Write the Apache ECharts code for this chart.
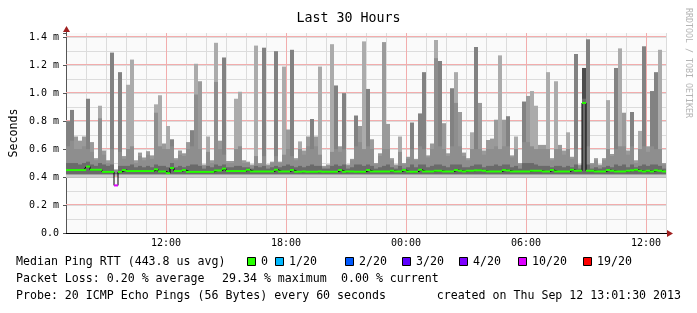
<!DOCTYPE html>
<html><head><meta charset="utf-8">
<script src="https://cdn.jsdelivr.net/npm/echarts@6/dist/echarts.min.js"></script>
<style>html,body{margin:0;padding:0;background:#fff}#c{width:697px;height:313px}</style>
</head><body><div id="c"></div><script>
// ---- data ----
const startHour = 7;          // first column starts 07:00 (hours since Sep 11 00:00)
const colHours = 0.2;         // each column = 12 minutes
const xLabelHours = [12, 18, 24, 30, 36];
const xLabelTexts = ['12:00', '18:00', '00:00', '06:00', '12:00'];
const yLabelValues = [0, 0.2, 0.4, 0.6, 0.8, 1.0, 1.2, 1.4];
const yLabelTexts = ['0.0', '0.2 m', '0.4 m', '0.6 m', '0.8 m', '1.0 m', '1.2 m', '1.4 m'];

const smokeTop = [
 0.80,0.88,0.69,0.66,0.69,0.96,0.65,0.535,0.91,0.59,
 0.52,1.29,0.455,1.15,0.55,1.06,1.24,0.52,0.575,0.54,
 0.585,0.555,0.92,0.985,0.64,0.765,0.67,0.535,0.59,0.57,
 0.65,0.735,1.21,1.085,0.49,0.69,0.52,1.36,0.66,1.255,
 0.515,0.515,0.96,1.01,0.52,0.51,0.49,1.34,0.50,1.325,
 0.49,0.51,1.30,0.51,1.19,0.74,1.31,0.535,0.655,0.59,
 0.69,0.815,0.69,1.19,0.48,0.49,1.35,1.055,0.62,1.0,
 0.49,0.53,0.84,0.765,1.37,1.03,0.67,0.50,0.57,1.365,
 0.78,0.535,0.49,0.69,0.50,0.545,0.79,0.53,0.855,1.15,
 0.555,0.64,1.38,1.23,0.785,0.57,1.035,1.15,0.865,0.575,
 0.535,0.72,1.33,0.93,0.59,0.665,0.675,0.81,1.27,0.81,
 0.835,0.555,0.69,0.50,0.94,0.98,1.015,0.91,0.63,0.63,
 1.15,0.535,1.085,0.63,0.59,0.72,0.545,1.28,0.49,1.18,
 1.385,0.50,0.535,0.49,0.535,0.95,0.565,1.18,1.32,0.86,
 0.59,0.865,0.52,0.73,1.335,0.62,1.015,1.15,1.31,0.50
];
const smokeShade =
 "DDMMMDMMLM" + "MDMDMLLMMM" + "MMLLMLDMMM" + "MDLMMLMLMD" + "MMLLMMMLMD" +
 "MMDMLMDMLM" + "MDMLMMLDMD" + "MMDMLDMMMM" + "MMMLMMDMDD" + "MMLDMMDLMM" +
 "MLDMMMMMLM" + "DMLMDMLLMM" + "LMLMMLMDMK" + "DMMMMLMDLM" + "MDMLDMDDLM";
const innerTop = [
 .62,.66,.60,.60,.62,.60,.58,.52,.82,.56,
 .50,.60,.45,.58,.53,.60,.62,.50,.55,.52,
 .56,.53,.86,.62,.60,.60,.62,.52,.56,.55,
 .60,.62,.99,.60,.48,.58,.50,1.08,.60,.56,
 .50,.50,.60,.62,.50,.50,.48,.55,.49,.55,
 .48,.50,.55,.50,.56,.60,.55,.52,.60,.56,
 .62,.60,.62,.56,.47,.48,.58,.60,.58,.60,
 .48,.52,.62,.65,.60,.62,.60,.49,.55,.60,
 .60,.52,.48,.58,.49,.53,.60,.52,.62,.60,
 .54,.60,1.25,.62,.60,.55,.62,.93,.62,.55,
 .52,.60,.60,.60,.56,.60,.60,.62,.60,.62,
 .62,.54,.60,.49,.65,.65,.62,.60,.60,.60,
 .60,.52,.60,.60,.56,.60,.53,.60,.48,.90,
 .62,.49,.52,.48,.52,.60,.55,.60,.62,.62,
 .56,.62,.50,.60,.62,.58,.62,.60,.60,.49
];
const coreTop = [
 .50,.50,.50,.49,.50,.51,.49,.48,.50,.49,
 .48,.49,.43,.48,.48,.48,.49,.47,.48,.47,
 .48,.47,.49,.48,.48,.47,.50,.47,.48,.47,
 .48,.49,.49,.48,.46,.48,.47,.49,.48,.49,
 .47,.47,.48,.48,.47,.47,.46,.48,.47,.48,
 .46,.47,.48,.47,.48,.49,.48,.47,.48,.47,
 .48,.49,.48,.48,.46,.46,.48,.49,.48,.49,
 .46,.47,.49,.49,.48,.49,.48,.46,.47,.48,
 .49,.47,.46,.48,.46,.47,.49,.47,.49,.49,
 .47,.48,.49,.49,.48,.47,.49,.49,.49,.47,
 .47,.48,.49,.49,.47,.48,.48,.49,.48,.49,
 .49,.47,.48,.46,.50,.50,.50,.49,.48,.48,
 .48,.47,.48,.48,.47,.48,.47,.49,.46,.96,
 .49,.46,.47,.46,.47,.48,.47,.49,.48,.49,
 .47,.49,.47,.48,.49,.48,.49,.49,.48,.46
];
const smokeLow = [
 .395,.395,.395,.395,.395,.395,.395,.395,.395,.395,
 .395,.395,.410,.395,.395,.395,.395,.395,.395,.395,
 .395,.395,.395,.395,.395,.395,.395,.395,.395,.395,
 .395,.395,.395,.395,.395,.395,.395,.395,.395,.395,
 .395,.395,.395,.395,.395,.395,.395,.395,.395,.395,
 .395,.395,.395,.395,.395,.395,.395,.395,.395,.395,
 .395,.395,.395,.395,.395,.395,.395,.395,.395,.395,
 .395,.395,.395,.395,.395,.395,.395,.395,.395,.395,
 .395,.395,.395,.395,.395,.395,.395,.395,.395,.395,
 .395,.395,.395,.395,.395,.395,.395,.395,.395,.395,
 .395,.395,.395,.395,.395,.395,.395,.395,.395,.395,
 .395,.395,.395,.395,.395,.395,.395,.395,.395,.395,
 .395,.395,.395,.395,.395,.395,.395,.395,.395,.395,
 .395,.395,.395,.395,.395,.395,.395,.395,.395,.395,
 .395,.395,.395,.395,.395,.395,.395,.395,.395,.395
];
const median = [
 .450,.450,.450,.450,.450,.475,.452,.452,.452,.437,
 .437,.437,.340,.437,.450,.443,.443,.443,.443,.443,
 .443,.443,.455,.440,.440,.428,.465,.443,.443,.450,
 .437,.437,.437,.437,.437,.437,.437,.447,.447,.460,
 .443,.443,.443,.443,.443,.452,.440,.440,.440,.440,
 .440,.440,.452,.440,.440,.440,.450,.438,.438,.440,
 .438,.438,.438,.440,.438,.438,.438,.438,.450,.438,
 .440,.440,.438,.438,.438,.450,.440,.440,.440,.440,
 .440,.445,.440,.440,.450,.440,.438,.438,.452,.440,
 .440,.440,.445,.445,.440,.440,.440,.450,.445,.440,
 .445,.445,.448,.448,.445,.440,.440,.440,.440,.450,
 .447,.440,.440,.440,.440,.440,.445,.445,.445,.440,
 .440,.450,.440,.440,.440,.440,.452,.445,.445,.930,
 .445,.445,.440,.440,.440,.450,.445,.440,.440,.440,
 .445,.448,.452,.445,.440,.445,.440,.448,.445,.440
];
const lossClass = [
 0,0,0,0,0,0,0,0,0,0, 0,0,5,0,0,0,0,0,0,0, 0,0,0,0,0,0,0,0,0,0,
 0,0,0,0,0,0,0,0,0,0, 0,0,0,0,0,0,0,0,0,0, 0,0,0,0,0,0,0,0,0,0,
 0,0,0,0,0,0,0,0,0,0, 0,0,0,0,0,0,0,0,0,0, 0,0,0,0,0,0,0,0,0,0,
 0,0,0,0,0,0,0,0,0,0, 0,0,0,0,0,0,0,0,0,0, 0,0,0,0,0,0,0,0,0,0,
 0,0,0,0,0,0,0,0,0,0, 0,0,0,0,0,0,0,0,0,0, 0,0,0,0,0,0,0,0,0,0
];
const lossLabels = ['0', '1/20', '2/20', '3/20', '4/20', '10/20', '19/20'];
const lossColors = ['#26ff00', '#00b8ff', '#0059ff', '#5e00ff', '#7e00ff', '#dd00ff', '#ff0000'];

const titleText = 'Last 30 Hours';
const legendLine1 = 'Median Ping RTT (443.8 us avg)';
const lossParts = ['Packet Loss: 0.20 % average', '29.34 % maximum', '0.00 % current'];
const legendLine3 = 'Probe: 20 ICMP Echo Pings (56 Bytes) every 60 seconds';
const createdText = 'created on Thu Sep 12 13:01:30 2013';
const watermark = 'RRDTOOL / TOBI OETIKER';

// ---- styling ----
const MONO = 'DejaVu Sans Mono';
const shadeColors = { L: '#ababab', M: '#9a9a9a', D: '#828282', K: '#4c4c4c' };
const shadeKeys = ['L', 'M', 'D', 'K'];
const coreBase = 0.418;
const minorGrid = '#dcdcdc', majorGrid = '#f2adad';

const smokeData = smokeTop.map((t, k) => [k, t, innerTop[k], coreTop[k], smokeLow[k], shadeKeys.indexOf(smokeShade[k])]);
const medianLineData = median.map((m, k) => [startHour + (k + 0.5) * colHours, m]);
const medianSegData = median.map((m, k) => [k, m, lossClass[k]]);
// major grid lines: [orientation (0 vertical / 1 horizontal), value]
const majorGridData = xLabelHours.map(h => [0, h]).concat(yLabelValues.slice(1).map(v => [1, v]));

function colX(api, k) {
  return [api.coord([startHour + k * colHours, 0])[0], api.coord([startHour + (k + 1) * colHours, 0])[0]];
}
function renderSmoke(params, api) {
  const k = api.value(0);
  const [x0, x1] = colX(api, k);
  const Y = v => api.coord([startHour, v])[1];
  const top = api.value(1), inner = Math.min(api.value(2), top), core = api.value(3), low = api.value(4);
  const sh = shadeColors[shadeKeys[api.value(5)]];
  const r = (a, b, c) => ({ type: 'rect', shape: { x: x0, y: Y(b), width: x1 - x0, height: Y(a) - Y(b) }, style: { fill: c } });
  return { type: 'group', children: [
    r(low, top, sh),
    r(low, inner, '#8e8e8e'),
    r(coreBase, core, '#6a6a6a'),
    r(low, coreBase, '#cdcdcd')
  ] };
}
function renderMedian(params, api) {
  const k = api.value(0);
  const [x0, x1] = colX(api, k);
  const y = api.coord([startHour, api.value(1)])[1];
  return { type: 'rect', shape: { x: x0, y: y - 1, width: x1 - x0, height: 2 }, style: { fill: lossColors[api.value(2)] } };
}
function renderMajorGrid(params, api) {
  const cs = params.coordSys;
  const horiz = api.value(0) === 1, v = api.value(1);
  if (horiz) {
    const y = Math.round(api.coord([startHour, v])[1]) - 0.5;
    return { type: 'line', shape: { x1: cs.x, y1: y, x2: cs.x + cs.width, y2: y }, style: { stroke: majorGrid, lineWidth: 1 } };
  }
  const x = Math.round(api.coord([v, 0])[0]) + 0.5;
  return { type: 'line', shape: { x1: x, y1: cs.y, x2: x, y2: cs.y + cs.height }, style: { stroke: majorGrid, lineWidth: 1 } };
}

const chart = echarts.init(document.getElementById('c'), null, { renderer: 'canvas' });

const txt = (id, s, x, y, align) => ({ type: 'text', id, x, y,
  style: { text: s, fontFamily: MONO, fontSize: 11.6, fill: '#000', align: align || 'left', verticalAlign: 'middle' } });
const legendGraphics = [];
const sqX = [247, 275, 345, 402, 459, 518, 583];
lossLabels.forEach((lab, i) => {
  legendGraphics.push({ type: 'rect', id: 'sq' + i, shape: { x: sqX[i] + 0.5, y: 257.5, width: 8, height: 8 },
    style: { fill: lossColors[i], stroke: '#000', lineWidth: 1 } });
  legendGraphics.push(txt('lt' + i, lab, sqX[i] + 14, 262));
});
const lossX = [16, 222, 341];

chart.setOption({
  animation: false,
  backgroundColor: '#ffffff',
  title: { text: titleText, left: 'center', top: 7, textStyle: { fontFamily: MONO, fontSize: 13.3, fontWeight: 'normal', color: '#000' } },
  grid: { left: 66, right: 31, top: 33, bottom: 80, show: true, backgroundColor: '#fafafa', borderWidth: 0 },
  xAxis: {
    type: 'value', min: startHour, max: startHour + 30, interval: 1,
    axisLine: { show: true, onZero: false, lineStyle: { color: '#000', width: 1 } },
    axisTick: { show: false },
    splitLine: { show: true, lineStyle: { color: minorGrid, width: 1 } },
    axisLabel: { margin: 5, fontFamily: MONO, fontSize: 10, color: '#000', hideOverlap: false,
      formatter: v => { const i = xLabelHours.indexOf(Math.round(v)); return i >= 0 ? xLabelTexts[i] : ''; } }
  },
  yAxis: [{
    type: 'value', min: 0, max: 1.43, interval: 0.1,
    name: 'Seconds', nameLocation: 'middle', nameGap: 46, nameRotate: 90,
    nameTextStyle: { fontFamily: MONO, fontSize: 11.6, color: '#000' },
    axisLine: { show: true, lineStyle: { color: '#555', width: 1 } },
    axisTick: { show: false },
    splitLine: { show: true, showMaxLine: false, lineStyle: { color: minorGrid, width: 1 } },
    axisLabel: { show: false }
  }, {
    type: 'value', min: 0, max: 1.43, interval: 0.2, position: 'left',
    axisLine: { show: false },
    axisTick: { show: true, length: 3, lineStyle: { color: '#555' } },
    splitLine: { show: false },
    axisLabel: { margin: 7, fontFamily: MONO, fontSize: 10, color: '#000',
      formatter: v => { const i = yLabelValues.findIndex(u => Math.abs(u - v) < 1e-6); return i >= 0 ? yLabelTexts[i] : ''; } }
  }],
  series: [
    { type: 'custom', name: 'major-grid', renderItem: renderMajorGrid, data: majorGridData, z: 1, silent: true, clip: false },
    { type: 'custom', name: 'smoke', renderItem: renderSmoke, data: smokeData, clip: true, z: 2, silent: true },
    { type: 'line', name: 'median-step', data: medianLineData, step: 'middle', symbol: 'none',
      lineStyle: { color: '#000', width: 1 }, z: 3, silent: true },
    { type: 'custom', name: 'median', renderItem: renderMedian, data: medianSegData, z: 4, silent: true }
  ],
  graphic: legendGraphics.concat([
    txt('l1', legendLine1, 16, 262),
    txt('p0', lossParts[0], lossX[0], 279),
    txt('p1', lossParts[1], lossX[1], 279),
    txt('p2', lossParts[2], lossX[2], 279),
    txt('l3', legendLine3, 16, 296),
    txt('l4', createdText, 681, 296, 'right'),
    { type: 'text', id: 'wm', x: 688, y: 8, rotation: -Math.PI / 2,
      style: { text: watermark, fontFamily: MONO, fontSize: 8.3, fill: '#b4b4b4', align: 'left', verticalAlign: 'middle' } }
  ])
});

// axis arrows (decoration)
const o = chart.convertToPixel({ gridIndex: 0 }, [startHour, 0]);
const xr = chart.convertToPixel({ gridIndex: 0 }, [startHour + 30, 0]);
const yt = chart.convertToPixel({ gridIndex: 0 }, [startHour, 1.43]);
chart.setOption({ graphic: [
  { type: 'line', id: 'xext', shape: { x1: xr[0], y1: o[1] + 0.5, x2: xr[0] + 5, y2: o[1] + 0.5 }, style: { stroke: '#000', lineWidth: 1 } },
  { type: 'polygon', id: 'xarr', shape: { points: [[xr[0] + 1, o[1] - 3], [xr[0] + 7, o[1] + 0.5], [xr[0] + 1, o[1] + 4]] }, style: { fill: '#a02020' } },
  { type: 'line', id: 'yext', shape: { x1: o[0] + 0.5, y1: yt[1], x2: o[0] + 0.5, y2: yt[1] - 4 }, style: { stroke: '#555', lineWidth: 1 } },
  { type: 'polygon', id: 'yarr', shape: { points: [[o[0] - 3, yt[1] - 1], [o[0] + 0.5, yt[1] - 7], [o[0] + 4, yt[1] - 1]] }, style: { fill: '#a02020' } }
] });
</script></body></html>
